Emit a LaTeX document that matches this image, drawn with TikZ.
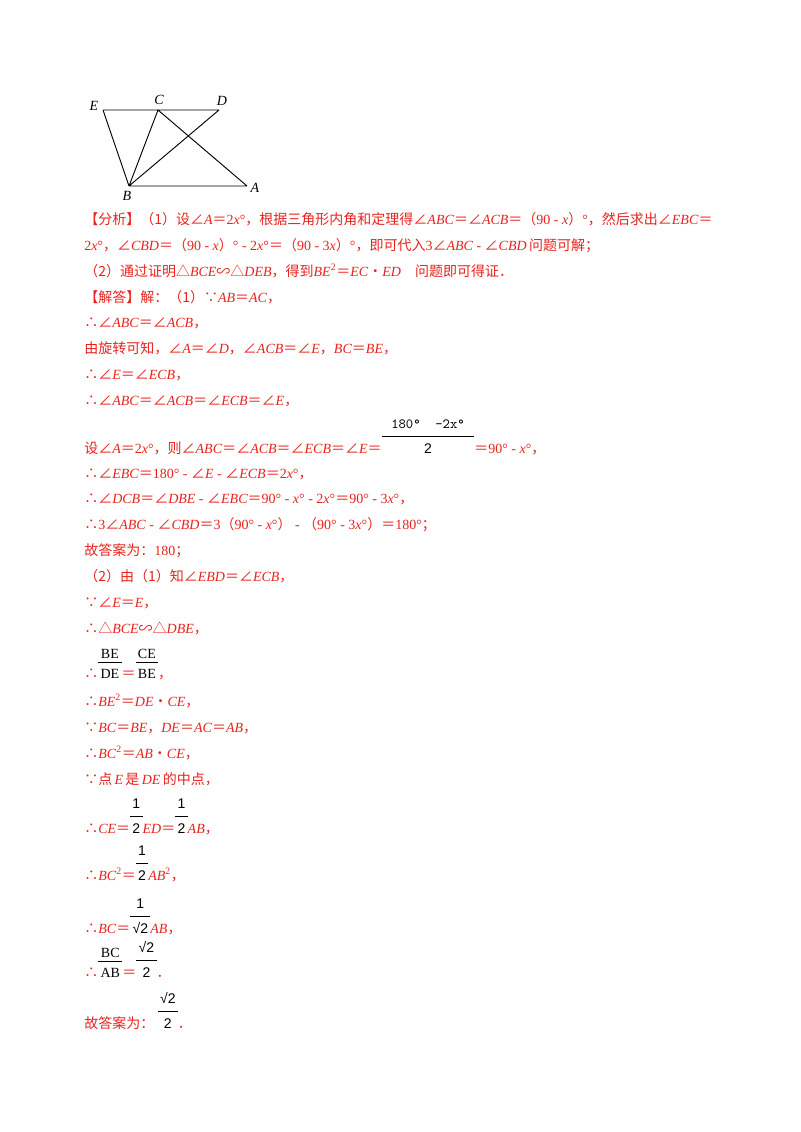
\documentclass[tikz,border=0pt]{standalone}
\usepackage{fontspec}
\setmainfont{Liberation Serif}
\setsansfont{Liberation Sans}
\newfontfamily\cjk{Noto Sans CJK SC}
\newcommand\zh[1]{{\cjk #1}}
\newcommand\I[1]{\textit{#1}}
\newcommand\ag{\zh{∠}}
\newcommand\eq{\zh{＝}}
\newcommand\fr[2]{{\color{black}\sffamily\begin{tabular}[b]{@{\,}c@{\,}}#1\\[2pt]\hline\rule{0pt}{1.2em}#2\end{tabular}}}
\newcommand\frs[2]{{\color{black}\rmfamily\begin{tabular}[b]{@{\,}c@{\,}}#1\\[-1pt]\hline\rule{0pt}{1.1em}#2\end{tabular}}}
\definecolor{red1}{HTML}{E8231F}
\begin{document}
\begin{tikzpicture}[x=0.75pt,y=-0.75pt,
  ln/.style={anchor=base west,inner sep=0pt,text=red1,font=\fontsize{10.5}{12}\selectfont},
  lab/.style={inner sep=0pt,font=\fontsize{10.5}{12}\selectfont\itshape},
  edge/.style={line width=0.7pt}]
\useasboundingbox[fill=white] (0,0) rectangle (800,1132);
\coordinate (E) at (103,110); \coordinate (C) at (158,110); \coordinate (D) at (219,110);
\coordinate (B) at (129,186); \coordinate (A) at (247,186);
\draw[edge] (E)--(D) (E)--(B)--(A) (B)--(C)--(A) (B)--(D);
\node[lab] (lE) at (94,106) {E};
\node[lab] (lC) at (159,100) {C};
\node[lab] (lD) at (222,101) {D};
\node[lab] (lB) at (127,196) {B};
\node[lab] (lA) at (255,188) {A};
\node[ln] (t1) at (84,224) {\zh{【分析】（1）设}\ag\I{A}\eq2\I{x}°\zh{，根据三角形内角和定理得}\ag\I{ABC}\eq\ag\I{ACB}\eq\zh{（}90 - \I{x}\zh{）}°\zh{，然后求出}\ag\I{EBC}\eq};
\node[ln] (t2) at (84,250) {2\I{x}°\zh{，}\ag\I{CBD}\eq\zh{（}90 - \I{x}\zh{）}° - 2\I{x}°\eq\zh{（}90 - 3\I{x}\zh{）}°\zh{，即可代入}3\ag\I{ABC} - \ag\I{CBD}\,\zh{问题可解；}};
\node[ln] (t3) at (84,276) {\zh{（2）通过证明△}\I{BCE}\zh{∽△}\I{DEB}\zh{，得到}\I{BE}\textsuperscript{2}\eq\I{EC}\zh{•}\I{ED}\quad\zh{问题即可得证．}};
\node[ln] (t4) at (84,302) {\zh{【解答】解：（1）∵}\I{AB}\eq\I{AC}\zh{，}};
\node[ln] (t5) at (84,327) {\zh{∴}\ag\I{ABC}\eq\ag\I{ACB}\zh{，}};
\node[ln] (t6) at (84,353) {\zh{由旋转可知，}\ag\I{A}\eq\ag\I{D}\zh{，}\ag\I{ACB}\eq\ag\I{E}\zh{，}\I{BC}\eq\I{BE}\zh{，}};
\node[ln] (t7) at (84,379) {\zh{∴}\ag\I{E}\eq\ag\I{ECB}\zh{，}};
\node[ln] (t8) at (84,405) {\zh{∴}\ag\I{ABC}\eq\ag\I{ACB}\eq\ag\I{ECB}\eq\ag\I{E}\zh{，}};
\node[ln] (t9) at (84,453) {\zh{设}\ag\I{A}\eq2\I{x}°\zh{，则}\ag\I{ABC}\eq\ag\I{ACB}\eq\ag\I{ECB}\eq\ag\I{E}\eq\fr{\ttfamily\makebox[66pt]{180°\ \ -2x°}}{2}\eq90° - \I{x}°\zh{，}};
\node[ln] (t10) at (84,478) {\zh{∴}\ag\I{EBC}\eq180° - \ag\I{E} - \ag\I{ECB}\eq2\I{x}°\zh{，}};
\node[ln] (t11) at (84,503) {\zh{∴}\ag\I{DCB}\eq\ag\I{DBE} - \ag\I{EBC}\eq90° - \I{x}° - 2\I{x}°\eq90° - 3\I{x}°\zh{，}};
\node[ln] (t12) at (84,529) {\zh{∴}3\ag\I{ABC} - \ag\I{CBD}\eq3\zh{（}90° - \I{x}°\zh{）} - \zh{（}90° - 3\I{x}°\zh{）}\eq180°\zh{；}};
\node[ln] (t13) at (84,555) {\zh{故答案为：}180\zh{；}};
\node[ln] (t14) at (84,581) {\zh{（2）由（1）知}\ag\I{EBD}\eq\ag\I{ECB}\zh{，}};
\node[ln] (t15) at (84,607) {\zh{∵}\ag\I{E}\eq\I{E}\zh{，}};
\node[ln] (t16) at (84,633) {\zh{∴△}\I{BCE}\zh{∽△}\I{DBE}\zh{，}};
\node[ln] (t17) at (84,678) {\zh{∴}\frs{BE}{DE}\eq\frs{CE}{BE}\zh{，}};
\node[ln] (t18) at (84,706) {\zh{∴}\I{BE}\textsuperscript{2}\eq\I{DE}\zh{•}\I{CE}\zh{，}};
\node[ln] (t19) at (84,732) {\zh{∵}\I{BC}\eq\I{BE}\zh{，}\I{DE}\eq\I{AC}\eq\I{AB}\zh{，}};
\node[ln] (t20) at (84,758) {\zh{∴}\I{BC}\textsuperscript{2}\eq\I{AB}\zh{•}\I{CE}\zh{，}};
\node[ln] (t21) at (84,784) {\zh{∵点}\,\I{E}\,\zh{是}\,\I{DE}\,\zh{的中点，}};
\node[ln] (t22) at (84,833) {\zh{∴}\I{CE}\eq\fr{1}{2}\I{ED}\eq\fr{1}{2}\I{AB}\zh{，}};
\node[ln] (t23) at (84,880) {\zh{∴}\I{BC}\textsuperscript{2}\eq\fr{1}{2}\I{AB}\textsuperscript{2}\zh{，}};
\node[ln] (t24) at (84,933) {\zh{∴}\I{BC}\eq\fr{1}{√2}\I{AB}\zh{，}};
\node[ln] (t25) at (84,977) {\zh{∴}\frs{BC}{AB}\eq\fr{√2}{2}\zh{．}};
\node[ln] (t26) at (84,1028) {\zh{故答案为：}\ \fr{√2}{2}\zh{．}};
\end{tikzpicture}
\end{document}
